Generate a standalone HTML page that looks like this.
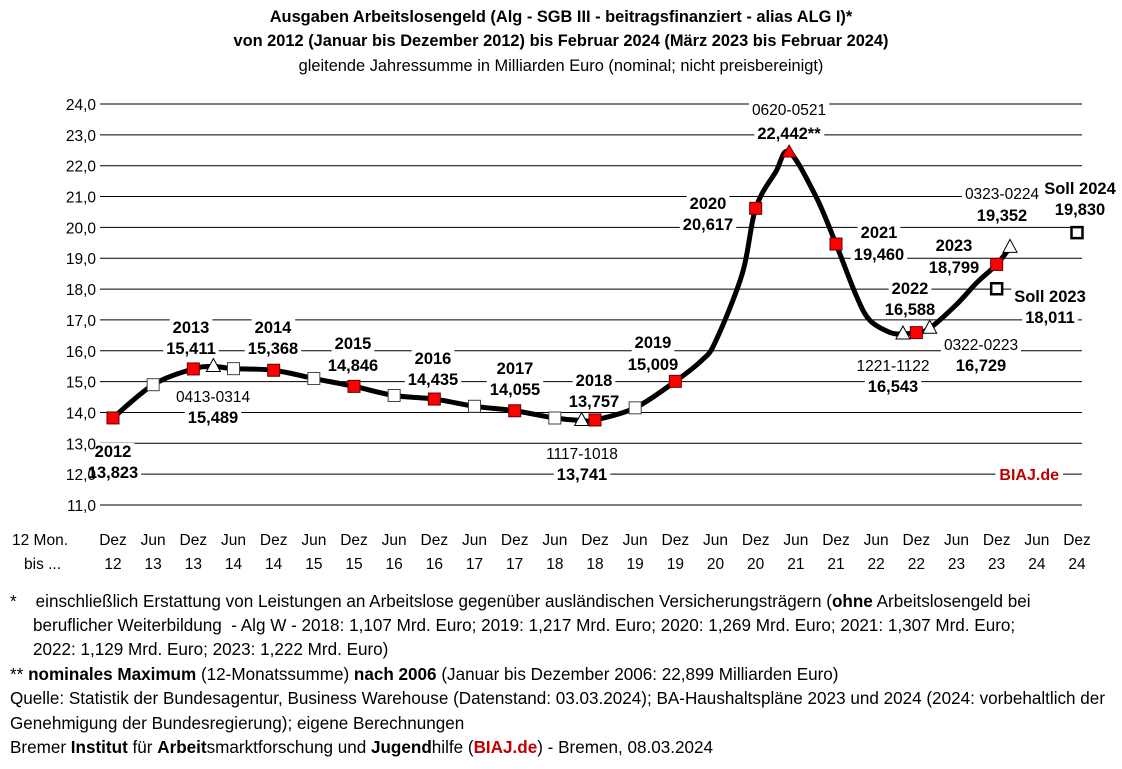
<!DOCTYPE html>
<html><head><meta charset="utf-8">
<style>
body{margin:0;background:#fff;}
#wrap{position:relative;width:1122px;height:769px;overflow:hidden;font-family:"Liberation Sans",sans-serif;color:#000;}
.t{position:absolute;left:0;width:1122px;text-align:center;font-size:16.4px;}
.fn{position:absolute;left:10px;font-size:17.1px;white-space:nowrap;}
</style></head>
<body>
<div id="wrap">
<div class="t" style="top:8px;font-weight:bold">Ausgaben Arbeitslosengeld (Alg - SGB III - beitragsfinanziert - alias ALG I)*</div>
<div class="t" style="top:32px;font-weight:bold">von 2012 (Januar bis Dezember 2012) bis Februar 2024 (März 2023 bis Februar 2024)</div>
<div class="t" style="top:57px">gleitende Jahressumme in Milliarden Euro (nominal; nicht preisbereinigt)</div>
<svg id="chart" width="1122" height="590" style="position:absolute;left:0;top:0"></svg>
<div class="fn" style="top:592px">*&nbsp;&nbsp;&nbsp;&nbsp;einschließlich Erstattung von Leistungen an Arbeitslose gegenüber ausländischen Versicherungsträgern (<b>ohne</b> Arbeitslosengeld bei</div>
<div class="fn" style="top:616px;left:33px">beruflicher Weiterbildung&nbsp; - Alg W - 2018: 1,107 Mrd. Euro; 2019: 1,217 Mrd. Euro; 2020: 1,269 Mrd. Euro; 2021: 1,307 Mrd. Euro;</div>
<div class="fn" style="top:640px;left:33px">2022: 1,129 Mrd. Euro; 2023: 1,222 Mrd. Euro)</div>
<div class="fn" style="top:665px">** <b>nominales Maximum</b> (12-Monatssumme) <b>nach 2006</b> (Januar bis Dezember 2006: 22,899 Milliarden Euro)</div>
<div class="fn" style="top:689px">Quelle: Statistik der Bundesagentur, Business Warehouse (Datenstand: 03.03.2024); BA-Haushaltspläne 2023 und 2024 (2024: vorbehaltlich der</div>
<div class="fn" style="top:714px">Genehmigung der Bundesregierung); eigene Berechnungen</div>
<div class="fn" style="top:738px">Bremer <b>Institut</b> für <b>Arbeit</b>smarktforschung und <b>Jugend</b>hilfe (<b style="color:#c00000">BIAJ.de</b>) - Bremen, 08.03.2024</div>
</div>
<script>
// month index 0 = Dez 2012
const months=[0,6,12,15,18,24,30,36,42,48,54,60,66,70,72,78,84,88,90,94,96,99,101,105,108,111,113,116,118,120,122,126,129,132,134];
const values=[13.823,14.9,15.411,15.489,15.42,15.368,15.1,14.846,14.55,14.435,14.2,14.055,13.82,13.741,13.757,14.15,15.009,15.7,16.3,18.5,20.617,21.8,22.442,21.0,19.46,17.8,17.0,16.6,16.543,16.588,16.729,17.5,18.2,18.799,19.352];
const redMonths=[0,12,24,36,48,60,72,84,96,108,120,132];
const whiteMonths=[6,18,30,42,54,66,78];
const triMonths=[15,70,118,122,134];
const maxMonth=101;
const sollMonths=[132,144];
const sollValues=[18.011,19.830];
const yTicks=[11,12,13,14,15,16,17,18,19,20,21,22,23,24];
const xTop=["Dez","Jun","Dez","Jun","Dez","Jun","Dez","Jun","Dez","Jun","Dez","Jun","Dez","Jun","Dez","Jun","Dez","Jun","Dez","Jun","Dez","Jun","Dez","Jun","Dez"];
const xBot=["12","13","13","14","14","15","15","16","16","17","17","18","18","19","19","20","20","21","21","22","22","23","23","24","24"];
const labels=[
 [113,452,"2012",1],[113,473,"13,823",1],
 [191,328,"2013",1],[191,349,"15,411",1],
 [213,397,"0413-0314",0],[213,418,"15,489",1],
 [273,328,"2014",1],[273,349,"15,368",1],
 [353,344,"2015",1],[353,366,"14,846",1],
 [433,359,"2016",1],[433,380,"14,435",1],
 [515,369,"2017",1],[515,390,"14,055",1],
 [594,381,"2018",1],[594,402,"13,757",1],
 [582,454,"1117-1018",0],[582,475,"13,741",1],
 [653,343,"2019",1],[653,365,"15,009",1],
 [708,204,"2020",1],[708,225,"20,617",1],
 [789,110,"0620-0521",0],[789,134,"22,442**",1],
 [879,233,"2021",1],[879,255,"19,460",1],
 [910,289,"2022",1],[910,310,"16,588",1],
 [893,366,"1221-1122",0],[893,387,"16,543",1],
 [981,345,"0322-0223",0],[981,366,"16,729",1],
 [954,246,"2023",1],[954,268,"18,799",1],
 [1002,194,"0323-0224",0],[1002,216,"19,352",1],
 [1080,189,"Soll 2024",1],[1080,210,"19,830",1],
 [1050,297,"Soll 2023",1],[1050,318,"18,011",1]
];
const NS="http://www.w3.org/2000/svg";
const svg=document.getElementById('chart');
const x=m=>113+m*(964/144);
const y=v=>505-(v-11)*(401/13);
function el(t,a,p){const e=document.createElementNS(NS,t);for(const k in a)e.setAttribute(k,a[k]);(p||svg).appendChild(e);return e;}
const gGrid=el('g',{});
yTicks.forEach(v=>{
 const l=el('line',{x1:100,x2:1082,y1:y(v),y2:y(v),stroke:'#000','stroke-width':1},gGrid);
 
 
});
const gLab=el('g',{});
labels.forEach(([cx,cy,s,b])=>{
 const t=el('text',{x:cx,y:cy+5,'text-anchor':'middle','font-size':b?16.5:15.5,'font-weight':b?'bold':'normal'},gLab);
 t.textContent=s;
 
 
 const bb=t.getBBox();
 const r=el('rect',{x:bb.x-3,y:bb.y,width:bb.width+6,height:bb.height,fill:'#fff'});
 gLab.insertBefore(r,t);
});
yTicks.forEach(v=>{
 const t=el('text',{x:96,y:y(v)+6,'text-anchor':'end','font-size':15.5});
 t.textContent=v.toFixed(1).replace('.',',');
 
 
});
xTop.forEach((s,i)=>{
 const t=el('text',{x:113+i*964/24,y:545,'text-anchor':'middle','font-size':15.5});t.textContent=s;
 
 
 const t2=el('text',{x:113+i*964/24,y:569,'text-anchor':'middle','font-size':15.5});t2.textContent=xBot[i];
 
 
});
const a1=el('text',{x:12,y:545,'font-size':15.5});a1.textContent="12 Mon.";


const a2=el('text',{x:24,y:569,'font-size':15.5});a2.textContent="bis ...";


const biaj=el('text',{x:1059,y:480,'text-anchor':'end','font-size':16,'font-weight':'bold',fill:'#c00000'});
biaj.textContent="BIAJ.de";


{const bb=biaj.getBBox();svg.insertBefore(el('rect',{x:bb.x-4,y:bb.y,width:bb.width+8,height:bb.height,fill:'#fff'}),biaj);}
const P=months.map((m,i)=>[x(m),y(values[i])]);
let d=`M${P[0][0]},${P[0][1]}`;
for(let i=0;i<P.length-1;i++){
 const p0=P[Math.max(0,i-1)],p1=P[i],p2=P[i+1],p3=P[Math.min(P.length-1,i+2)];
 d+=`C${p1[0]+(p2[0]-p0[0])/6},${p1[1]+(p2[1]-p0[1])/6} ${p2[0]-(p3[0]-p1[0])/6},${p2[1]-(p3[1]-p1[1])/6} ${p2[0]},${p2[1]}`;
}
const line=el('path',{d,fill:'none',stroke:'#000','stroke-width':5,'stroke-linejoin':'round'});


const val=m=>values[months.indexOf(m)];
whiteMonths.forEach(m=>{const r=el('rect',{x:x(m)-6,y:y(val(m))-6,width:12,height:12,fill:'#fff',stroke:'#444','stroke-width':1});
 
 });
redMonths.forEach(m=>{const r=el('rect',{x:x(m)-6,y:y(val(m))-6,width:12,height:12,fill:'#f00',stroke:'#600','stroke-width':1});
 
 });
triMonths.forEach(m=>{const cx=x(m),cy=y(val(m));const t=el('polygon',{points:`${cx},${cy-8} ${cx-7},${cy+5} ${cx+7},${cy+5}`,fill:'#fff',stroke:'#000','stroke-width':1});
 
 });
{const cx=x(maxMonth),cy=y(val(maxMonth));const t=el('polygon',{points:`${cx},${cy-7} ${cx-7},${cy+5} ${cx+7},${cy+5}`,fill:'#f00',stroke:'#600','stroke-width':1});
 
 }
sollMonths.forEach((m,i)=>{const r=el('rect',{x:x(m)-5.5,y:y(sollValues[i])-5.5,width:11,height:11,fill:'#fff',stroke:'#000','stroke-width':2.5});
 
 });
</script>
</body></html>
